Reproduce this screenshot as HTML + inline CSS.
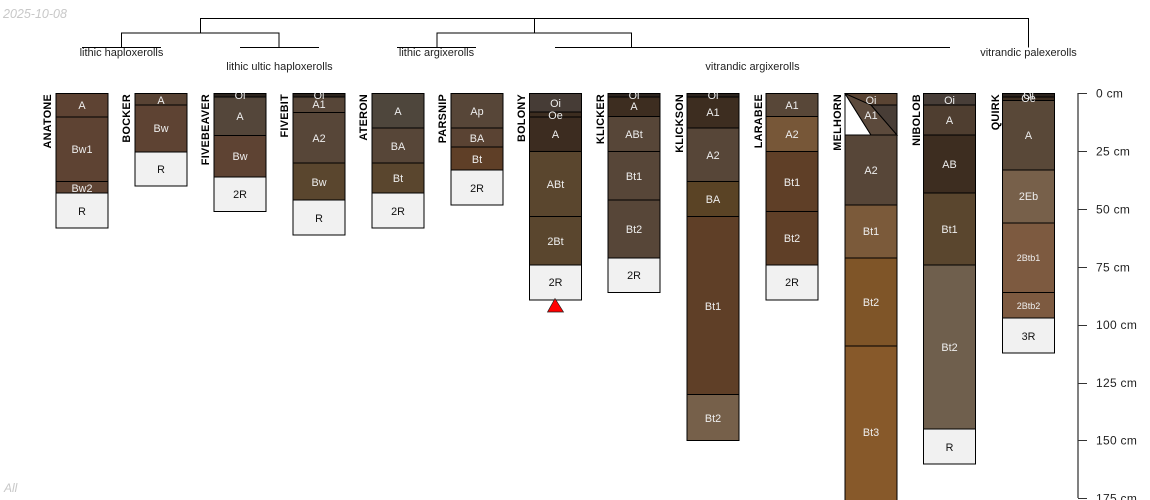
<!DOCTYPE html>
<html><head><meta charset="utf-8"><style>
html,body{margin:0;padding:0;background:#fff;width:1150px;height:500px;overflow:hidden}
svg{display:block}
text{font-family:"Liberation Sans",sans-serif}
.h text{font-size:10.8px;fill:#eee;text-anchor:middle}
.h text.k{fill:#111}
.n{font-size:10.8px;font-weight:bold;fill:#000;text-anchor:end;letter-spacing:.3px}
.t{font-size:11px;fill:#222;text-anchor:middle}
.a{font-size:12px;fill:#222;letter-spacing:.3px}
.h rect{stroke:#000;stroke-width:1}
</style></head><body>
<svg width="1150" height="500" viewBox="0 0 1150 500" xmlns="http://www.w3.org/2000/svg">
<defs><clipPath id="c"><rect x="0" y="93" width="1150" height="407"/></clipPath></defs>
<text x="3" y="18" font-size="12.5" font-style="italic" fill="#c8c8c8">2025-10-08</text>
<text x="4" y="492" font-size="12" font-style="italic" fill="#c8c8c8">All</text>

<g fill="none" stroke="#000" stroke-width="1">
<path d="M200.500 33V18.500H1028.500V47.500M534.500 18.500V33"/>
<path d="M121.500 47.500V33H279V47.500M437 47.500V33H631.500V47.500"/>
<path d="M82 47.500H161M240 47.500H319M397 47.500H476M555 47.500H950"/>
</g>
<text class="t" x="121.500" y="56">lithic haploxerolls</text>
<text class="t" x="279.500" y="70">lithic ultic haploxerolls</text>
<text class="t" x="436.500" y="56">lithic argixerolls</text>
<text class="t" x="752.500" y="70">vitrandic argixerolls</text>
<text class="t" x="1028.500" y="56">vitrandic palexerolls</text>

<g class="n">
<text transform="translate(51 94) rotate(-90)" class="n">ANATONE</text>
<text transform="translate(130 94) rotate(-90)" class="n">BOCKER</text>
<text transform="translate(209 94) rotate(-90)" class="n">FIVEBEAVER</text>
<text transform="translate(288 94) rotate(-90)" class="n">FIVEBIT</text>
<text transform="translate(367 94) rotate(-90)" class="n">ATERON</text>
<text transform="translate(446 94) rotate(-90)" class="n">PARSNIP</text>
<text transform="translate(525 94) rotate(-90)" class="n">BOLONY</text>
<text transform="translate(604 94) rotate(-90)" class="n">KLICKER</text>
<text transform="translate(683 94) rotate(-90)" class="n">KLICKSON</text>
<text transform="translate(762 94) rotate(-90)" class="n">LARABEE</text>
<text transform="translate(841 94) rotate(-90)" class="n">MELHORN</text>
<text transform="translate(920 94) rotate(-90)" class="n">NIBOLOB</text>
<text transform="translate(999 94) rotate(-90)" class="n">QUIRK</text>
</g>

<g class="h" clip-path="url(#c)">
<!-- Anatone -->
<rect x="56" y="93.500" width="52" height="23.500" fill="#5e4333"/>
<rect x="56" y="117" width="52" height="64.500" fill="#5e4333"/>
<rect x="56" y="181.500" width="52" height="11.500" fill="#5e4333"/>
<rect x="56" y="193" width="52" height="35" fill="#f1f1f1"/>
<text x="82" y="109">A</text><text x="82" y="153">Bw1</text><text x="82" y="192">Bw2</text><text class="k" x="82" y="215">R</text>
<!-- Bocker -->
<rect x="135" y="93.500" width="52" height="11.500" fill="#584334"/>
<rect x="135" y="105" width="52" height="47" fill="#5e4333"/>
<rect x="135" y="152" width="52" height="34" fill="#f1f1f1"/>
<text x="161" y="104">A</text><text x="161" y="132">Bw</text><text class="k" x="161" y="173">R</text>
<!-- Fivebeaver -->
<rect x="214" y="93.500" width="52" height="3.500" fill="#2c241e"/>
<rect x="214" y="97" width="52" height="38.500" fill="#54463a"/>
<rect x="214" y="135.500" width="52" height="41.500" fill="#5e4333"/>
<rect x="214" y="177" width="52" height="34.500" fill="#f1f1f1"/>
<text x="240" y="99">Oi</text><text x="240" y="120">A</text><text x="240" y="160">Bw</text><text class="k" x="240" y="198">2R</text>
<!-- Fivebit -->
<rect x="293" y="93.500" width="52" height="3.500" fill="#2c241e"/>
<rect x="293" y="97" width="52" height="15.500" fill="#574638"/>
<rect x="293" y="112.500" width="52" height="50.500" fill="#574638"/>
<rect x="293" y="163" width="52" height="37" fill="#5a462e"/>
<rect x="293" y="200" width="52" height="35" fill="#f1f1f1"/>
<text x="319" y="99">Oi</text><text x="319" y="108">A1</text><text x="319" y="142">A2</text><text x="319" y="186">Bw</text><text class="k" x="319" y="222">R</text>
<!-- Ateron -->
<rect x="372" y="93.500" width="52" height="34.500" fill="#4e463c"/>
<rect x="372" y="128" width="52" height="35" fill="#574638"/>
<rect x="372" y="163" width="52" height="30" fill="#5a462e"/>
<rect x="372" y="193" width="52" height="35" fill="#f1f1f1"/>
<text x="398" y="115">A</text><text x="398" y="150">BA</text><text x="398" y="182">Bt</text><text class="k" x="398" y="215">2R</text>
<!-- Parsnip -->
<rect x="451" y="93.500" width="52" height="34.500" fill="#574638"/>
<rect x="451" y="128" width="52" height="19" fill="#5a4333"/>
<rect x="451" y="147" width="52" height="23" fill="#5f3f27"/>
<rect x="451" y="170" width="52" height="35" fill="#f1f1f1"/>
<text x="477" y="115">Ap</text><text x="477" y="142">BA</text><text x="477" y="163">Bt</text><text class="k" x="477" y="192">2R</text>
<!-- Bolony -->
<rect x="529.500" y="93.500" width="52" height="18.500" fill="#463c36"/>
<rect x="529.500" y="112" width="52" height="5" fill="#3c2d20"/>
<rect x="529.500" y="117" width="52" height="34.500" fill="#3c2c20"/>
<rect x="529.500" y="151.500" width="52" height="65" fill="#5a462e"/>
<rect x="529.500" y="216.500" width="52" height="48.500" fill="#5a462e"/>
<rect x="529.500" y="265" width="52" height="35" fill="#f1f1f1"/>
<text x="555.500" y="107">Oi</text><text x="555.500" y="119">Oe</text><text x="555.500" y="138">A</text><text x="555.500" y="188">ABt</text><text x="555.500" y="245">2Bt</text><text class="k" x="555.500" y="286">2R</text>
<!-- Klicker -->
<rect x="608" y="93.500" width="52" height="3.500" fill="#2c241e"/>
<rect x="608" y="97" width="52" height="19.500" fill="#3d2d20"/>
<rect x="608" y="116.500" width="52" height="35" fill="#574638"/>
<rect x="608" y="151.500" width="52" height="48.500" fill="#574638"/>
<rect x="608" y="200" width="52" height="58" fill="#574638"/>
<rect x="608" y="258" width="52" height="34.500" fill="#f1f1f1"/>
<text x="634" y="99">Oi</text><text x="634" y="110">A</text><text x="634" y="138">ABt</text><text x="634" y="180">Bt1</text><text x="634" y="233">Bt2</text><text class="k" x="634" y="279">2R</text>
<!-- Klickson -->
<rect x="687" y="93.500" width="52" height="3.500" fill="#2c241e"/>
<rect x="687" y="97" width="52" height="31" fill="#3d2d20"/>
<rect x="687" y="128" width="52" height="53.500" fill="#574638"/>
<rect x="687" y="181.500" width="52" height="35" fill="#5a4325"/>
<rect x="687" y="216.500" width="52" height="178" fill="#5f3f27"/>
<rect x="687" y="394.500" width="52" height="46" fill="#76604a"/>
<text x="713" y="99">Oi</text><text x="713" y="116">A1</text><text x="713" y="159">A2</text><text x="713" y="203">BA</text><text x="713" y="310">Bt1</text><text x="713" y="422">Bt2</text>
<!-- Larabee -->
<rect x="766" y="93.500" width="52" height="23" fill="#584738"/>
<rect x="766" y="116.500" width="52" height="35" fill="#775738"/>
<rect x="766" y="151.500" width="52" height="60" fill="#5f3f27"/>
<rect x="766" y="211.500" width="52" height="53.500" fill="#5f3f27"/>
<rect x="766" y="265" width="52" height="35" fill="#f1f1f1"/>
<text x="792" y="109">A1</text><text x="792" y="138">A2</text><text x="792" y="186">Bt1</text><text x="792" y="242">Bt2</text><text class="k" x="792" y="286">2R</text>
<!-- Melhorn -->
<rect x="845" y="93.500" width="52" height="41.500" fill="#5a4433"/>
<path d="M845 93.500L871 135H845Z" fill="#fff" stroke="#000"/>
<path d="M845 93.500L871 105L897 135H871Z" fill="#5c4a3c" stroke="#000"/>
<path d="M871 105H897V135Z" fill="#483d36" stroke="#000"/>
<rect x="845" y="135" width="52" height="70" fill="#574638"/>
<rect x="845" y="205" width="52" height="53" fill="#7b5a3a"/>
<rect x="845" y="258" width="52" height="88" fill="#7f5528"/>
<rect x="845" y="346" width="52" height="170" fill="#87592a"/>
<path d="M845 93.500V135M897 93.500V135M845 93.500H897" fill="none" stroke="#000"/>
<text x="871" y="104">Oi</text><text x="871" y="119">A1</text><text x="871" y="174">A2</text><text x="871" y="235">Bt1</text><text x="871" y="306">Bt2</text><text x="871" y="436">Bt3</text>
<!-- Nibolob -->
<rect x="923.500" y="93.500" width="52" height="11.500" fill="#483e38"/>
<rect x="923.500" y="105" width="52" height="30" fill="#4f3e30"/>
<rect x="923.500" y="135" width="52" height="58" fill="#3d2d20"/>
<rect x="923.500" y="193" width="52" height="72" fill="#5a462e"/>
<rect x="923.500" y="265" width="52" height="164" fill="#6f5f4d"/>
<rect x="923.500" y="429" width="52" height="35" fill="#f1f1f1"/>
<text x="949.500" y="104">Oi</text><text x="949.500" y="124">A</text><text x="949.500" y="168">AB</text><text x="949.500" y="233">Bt1</text><text x="949.500" y="351">Bt2</text><text class="k" x="949.500" y="451">R</text>
<!-- Quirk -->
<rect x="1002.500" y="93.500" width="52" height="3.500" fill="#2c241e"/>
<rect x="1002.500" y="97" width="52" height="3.500" fill="#3c2d20"/>
<rect x="1002.500" y="100.500" width="52" height="69.500" fill="#594838"/>
<rect x="1002.500" y="170" width="52" height="53" fill="#77604a"/>
<rect x="1002.500" y="223" width="52" height="69.500" fill="#7d5a40"/>
<rect x="1002.500" y="292.500" width="52" height="25.500" fill="#7d5a40"/>
<rect x="1002.500" y="318" width="52" height="35" fill="#f1f1f1"/>
<text x="1028.500" y="99">Oi</text><text x="1028.500" y="102">Oe</text><text x="1028.500" y="139">A</text><text x="1028.500" y="200">2Eb</text><text x="1028.500" y="261" style="font-size:9px">2Btb1</text><text x="1028.500" y="309" style="font-size:9px">2Btb2</text><text class="k" x="1028.500" y="340">3R</text>
</g>

<path d="M555 298.500L547.500 312H563.500Z" fill="#f00" stroke="#222" stroke-width="0.7"/>

<g fill="none">
<path d="M1078 93V498" stroke="#000"/>
<path d="M1078 93.500H1087M1078 151.500H1087M1078 209.500H1087M1078 267.500H1087M1078 325.500H1087M1078 383.500H1087M1078 440.500H1087M1078 498.500H1087" stroke="#333"/>
</g>
<text class="a" x="1096" y="97.500">0 cm</text>
<text class="a" x="1096" y="155.500">25 cm</text>
<text class="a" x="1096" y="213.500">50 cm</text>
<text class="a" x="1096" y="271.500">75 cm</text>
<text class="a" x="1096" y="329">100 cm</text>
<text class="a" x="1096" y="387">125 cm</text>
<text class="a" x="1096" y="444.500">150 cm</text>
<text class="a" x="1096" y="502.500">175 cm</text>
</svg>
</body></html>
